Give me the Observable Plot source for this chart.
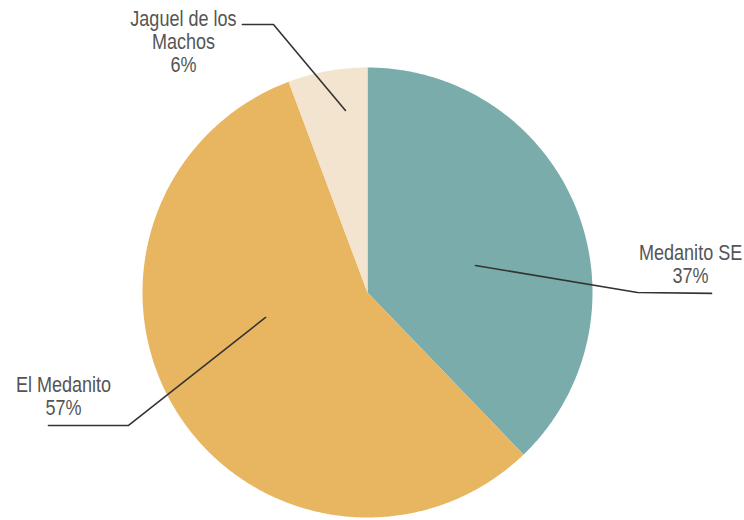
<!DOCTYPE html>
<html><head><meta charset="utf-8">
<script src="https://cdn.jsdelivr.net/npm/d3@7"></script>
<script src="https://cdn.jsdelivr.net/npm/@observablehq/plot@0.6"></script>
<style>body{margin:0;background:#fff} svg{display:block}</style>
</head><body><div id="chart"></div>
<script>
// ---- data ----
const categories = ["Medanito SE", "El Medanito", "Jaguel de los Machos"];
const shares = [37.8, 56.5, 5.7];
const pctLabels = ["37%", "57%", "6%"];
const nameLines = ["Medanito SE", "El Medanito", "Jaguel de los\nMachos"];
const colors = ["#7aacab", "#e8b660", "#f3e4d0"];

// ---- layout (units: pie radius, relative to pie centre, y up) ----
const W = 744, H = 520, cx = 367, cy = 292, R = 225;
const leaderPts = [
  [[0.48, 0.12], [1.2, 0.0], [1.529, -0.004]],
  [[-0.453, -0.111], [-1.062, -0.591], [-1.418, -0.591]],
  [[-0.098, 0.809], [-0.418, 1.191], [-0.556, 1.191]]
];
const labelPos = [[1.436, 0.218], [-1.351, -0.369], [-0.818, 1.256]];
const condense = 0.82;

// ---- build pie geometry from shares ----
const total = d3.sum(shares);
const wedges = [];
let acc = 0;
categories.forEach((c, i) => {
  const a0 = acc / total * 2 * Math.PI;
  acc += shares[i];
  const a1 = acc / total * 2 * Math.PI;
  wedges.push({cat: c, x: 0, y: 0});
  const n = Math.max(2, Math.ceil((a1 - a0) / (Math.PI / 360)));
  for (let k = 0; k <= n; k++) {
    const a = a0 + (a1 - a0) * k / n;
    wedges.push({cat: c, x: Math.sin(a), y: Math.cos(a)});
  }
  wedges.push({cat: c, x: 0, y: 0});
});
const leaders = leaderPts.flatMap((pts, i) => pts.map(([x, y]) => ({cat: categories[i], x, y})));
const labels = categories.map((c, i) => ({
  cat: c, x: labelPos[i][0], y: labelPos[i][1],
  text: nameLines[i] + "\n" + pctLabels[i]
}));

const chart = Plot.plot({
  width: W, height: H,
  margin: 0,
  x: {domain: [-cx / R, (W - cx) / R], axis: null},
  y: {domain: [(cy - H) / R, cy / R], axis: null},
  color: {domain: categories, range: colors},
  style: {background: "#fff"},
  marks: [
    Plot.line(wedges, {x: "x", y: "y", z: "cat", fill: "cat", stroke: "none", curve: "linear"}),
    Plot.line(leaders, {x: "x", y: "y", z: "cat", stroke: "#333", strokeWidth: 1.6}),
    Plot.text(labels, {
      x: "x", y: "y", text: "text",
      textAnchor: "middle", lineAnchor: "top", lineHeight: 1.045,
      fontSize: 22, fill: "#555",
      fontFamily: "'Liberation Sans', Arial, sans-serif"
    })
  ]
});
// condense label glyphs horizontally (Helvetica-Condensed look)
d3.select(chart).selectAll("text").each(function () {
  const t = d3.select(this);
  const tr = t.attr("transform");
  if (tr) {
    t.attr("transform", tr + ` scale(${condense},1)`);
  } else {
    const x = +t.attr("x") || 0, y = +t.attr("y") || 0;
    t.attr("transform", `translate(${x},${y}) scale(${condense},1)`).attr("x", null).attr("y", null);
  }
});
document.getElementById("chart").append(chart);
</script>
</body></html>
